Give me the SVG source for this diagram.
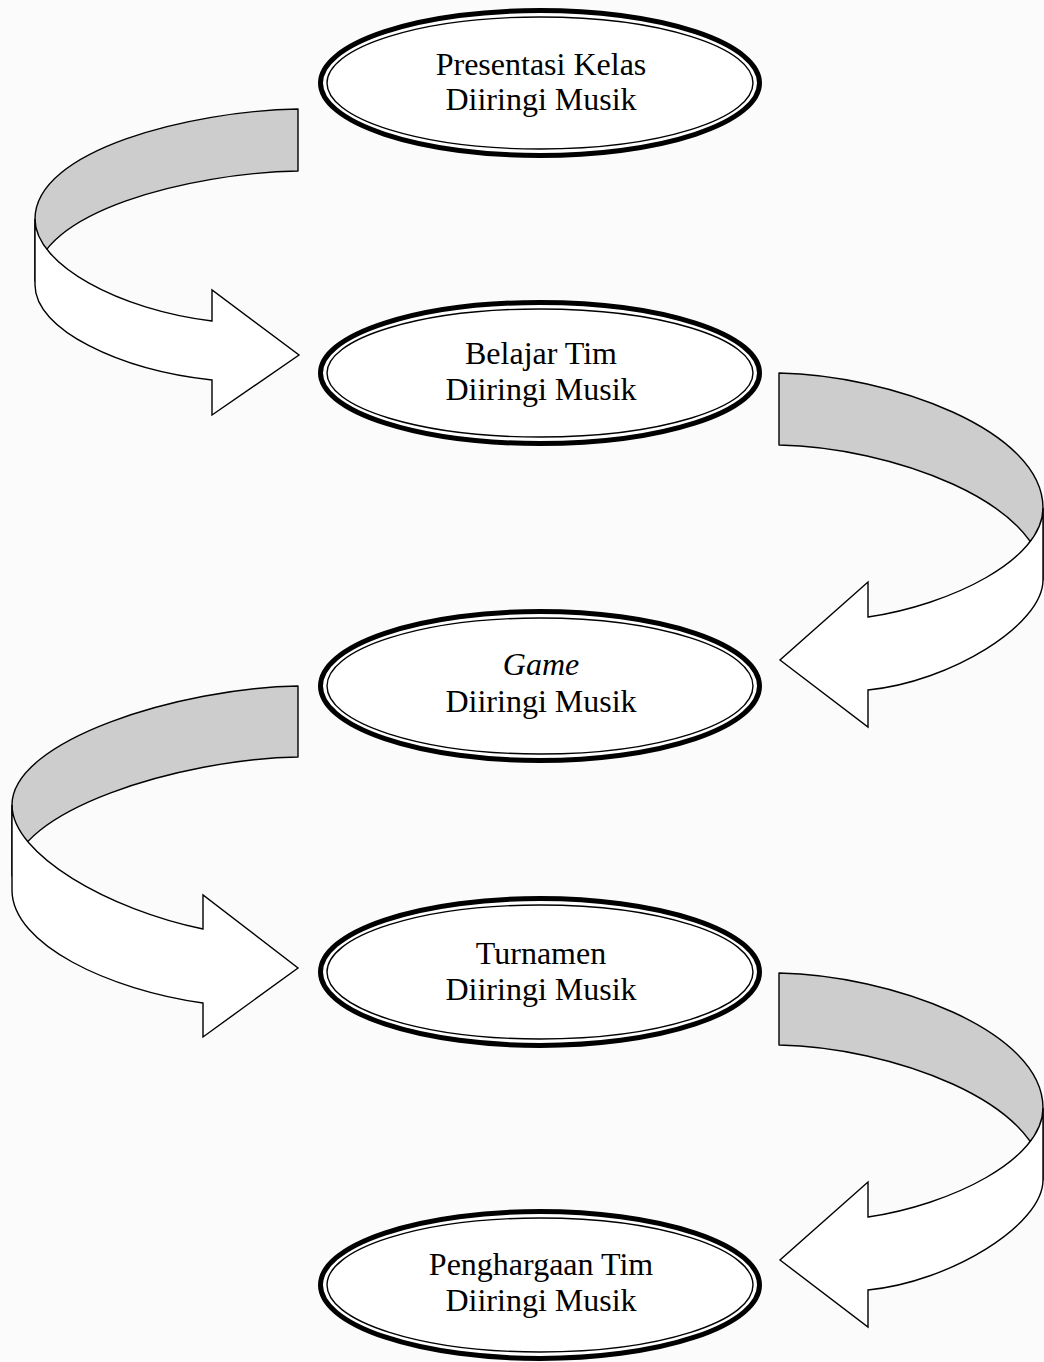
<svg xmlns="http://www.w3.org/2000/svg" width="1044" height="1362" viewBox="0 0 1044 1362">
<style>
.ring-outer{fill:#fff;stroke:#000;stroke-width:5}
.ring-inner{fill:none;stroke:#000;stroke-width:1.4}
.lbl{font-family:"Liberation Serif","Times New Roman",serif;font-size:32px;fill:#000;text-anchor:middle}
.it{font-style:italic}
.back{fill:#cdcdcd;stroke:#000;stroke-width:1.4;stroke-linejoin:round}
.front{fill:#fff;stroke:#000;stroke-width:1.4;stroke-linejoin:miter}
</style>
<rect x="0" y="0" width="1044" height="1362" fill="#fbfbfb"/>

<g id="connectors">
  <g id="arrow-1">
    <path class="back" d="M298,109 C190,111 35,150 35,219 L35,281 C35,212 190,173 298,171 Z"/>
    <path class="front" d="M35,219 C35,265 120,310 212,321 L212,290 L299,355 L212,415 L212,380 C120,370 35,330 35,285 Z"/>
  </g>
  <g id="arrow-2">
    <path class="back" d="M779,373 C890,375 1043,430 1043,508 L1043,580 C1043,502 890,447 779,445 Z"/>
    <path class="front" d="M1043,508 C1043,560 950,605 868,617 L868,582 L780,660 L868,727 L868,690 C950,682 1043,625 1043,580 Z"/>
  </g>
  <g id="arrow-3">
    <path class="back" d="M298,686 C180,688 12,740 12,805 L12,876 C12,811 180,759 298,757 Z"/>
    <path class="front" d="M12,805 C12,855 110,910 203,929 L203,895 L298,968 L203,1037 L203,1003 C110,990 12,945 12,890 Z"/>
  </g>
  <g id="arrow-4">
    <path class="back" d="M779,973 C890,975 1043,1030 1043,1108 L1043,1180 C1043,1102 890,1047 779,1045 Z"/>
    <path class="front" d="M1043,1108 C1043,1160 950,1205 868,1217 L868,1182 L780,1260 L868,1327 L868,1290 C950,1282 1043,1225 1043,1180 Z"/>
  </g>
</g>

<g id="node-presentasi">
  <ellipse class="ring-outer" cx="540" cy="83" rx="219.5" ry="72.5"/>
  <ellipse class="ring-inner" cx="540" cy="83" rx="213" ry="66"/>
  <text class="lbl" x="541" y="75">Presentasi Kelas</text>
  <text class="lbl" x="541" y="110">Diiringi Musik</text>
</g>

<g id="node-belajar">
  <ellipse class="ring-outer" cx="540" cy="373" rx="219.5" ry="70.5"/>
  <ellipse class="ring-inner" cx="540" cy="373" rx="213" ry="64"/>
  <text class="lbl" x="541" y="364">Belajar Tim</text>
  <text class="lbl" x="541" y="400">Diiringi Musik</text>
</g>

<g id="node-game">
  <ellipse class="ring-outer" cx="540" cy="686" rx="219.5" ry="74.5"/>
  <ellipse class="ring-inner" cx="540" cy="686" rx="213" ry="68"/>
  <text class="lbl it" x="541" y="675">Game</text>
  <text class="lbl" x="541" y="712">Diiringi Musik</text>
</g>

<g id="node-turnamen">
  <ellipse class="ring-outer" cx="540" cy="972" rx="219.5" ry="73.5"/>
  <ellipse class="ring-inner" cx="540" cy="972" rx="213" ry="67"/>
  <text class="lbl" x="541" y="964">Turnamen</text>
  <text class="lbl" x="541" y="1000">Diiringi Musik</text>
</g>

<g id="node-penghargaan">
  <ellipse class="ring-outer" cx="540" cy="1285" rx="219.5" ry="73.5"/>
  <ellipse class="ring-inner" cx="540" cy="1285" rx="213" ry="67"/>
  <text class="lbl" x="541" y="1275">Penghargaan Tim</text>
  <text class="lbl" x="541" y="1311">Diiringi Musik</text>
</g>
</svg>
